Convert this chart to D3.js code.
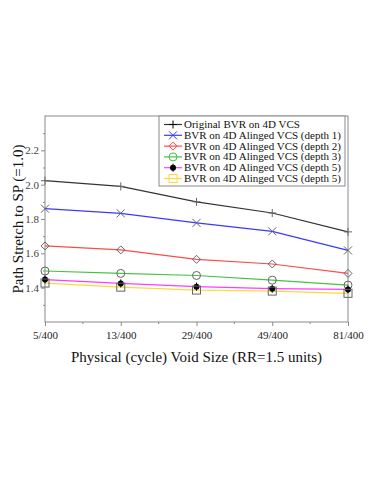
<!DOCTYPE html>
<html>
<head>
<meta charset="utf-8">
<script src="https://cdn.jsdelivr.net/npm/d3@7"></script>
<style>
  body { margin: 0; background: #fff; }
  text { font-family: "Liberation Serif", "DejaVu Serif", serif; }
</style>
</head>
<body>
<script>
const categories = ["5/400", "13/400", "29/400", "49/400", "81/400"];
const seriesNames = [
  "Original BVR on 4D VCS",
  "BVR on 4D Alinged VCS (depth 1)",
  "BVR on 4D Alinged VCS (depth 2)",
  "BVR on 4D Alinged VCS (depth 3)",
  "BVR on 4D Alinged VCS (depth 5)",
  "BVR on 4D Alinged VCS (depth 5)"
];
const original = [2.023, 1.99, 1.90, 1.835, 1.725];
const depth1 = [1.86, 1.833, 1.777, 1.728, 1.617];
const depth2 = [1.643, 1.62, 1.565, 1.538, 1.483];
const depth3 = [1.497, 1.483, 1.471, 1.444, 1.415];
const depth5a = [1.447, 1.425, 1.406, 1.394, 1.39];
const depth5b = [1.427, 1.403, 1.386, 1.38, 1.367];
const yTicks = [1.4, 1.6, 1.8, 2.0, 2.2];

const lineColors = ["#333333", "#3a3aff", "#ff4a4a", "#44c244", "#ff3cff", "#ffd83a"];
const symbols = ["plus", "cross", "diamond", "circle", "dot", "square"];
const seriesValues = [original, depth1, depth2, depth3, depth5a, depth5b];

const W = 374, H = 484;
const m = {left: 45, right: 26, top: 116, bottom: 162};
const svg = d3.select("body").append("svg").attr("width", W).attr("height", H);

const x = d3.scalePoint().domain(categories).range([m.left, W - m.right]);
const y = d3.scaleLinear().domain([1.2, 2.4]).range([H - m.bottom, m.top]);

const frame = "#8a8a8a";

// frame
svg.append("rect")
  .attr("x", m.left).attr("y", m.top)
  .attr("width", W - m.right - m.left).attr("height", H - m.bottom - m.top)
  .attr("fill", "none").attr("stroke", frame).attr("stroke-width", 1);

// y axis
const yAxis = svg.append("g").attr("transform", `translate(${m.left},0)`)
  .call(d3.axisLeft(y).tickValues(yTicks).tickFormat(d3.format(".1f")).tickSize(4).tickPadding(2));
yAxis.select(".domain").remove();
yAxis.selectAll("line").attr("stroke", frame);
yAxis.selectAll("text").attr("fill", "#444").style("font-size", "11px");
svg.append("g").attr("transform", `translate(${m.left},0)`)
  .call(d3.axisLeft(y).tickValues(d3.range(1.3, 2.4, 0.2)).tickFormat("").tickSize(2))
  .call(g => g.select(".domain").remove())
  .selectAll("line").attr("stroke", frame);

// x axis
const xAxis = svg.append("g").attr("transform", `translate(0,${H - m.bottom})`)
  .call(d3.axisBottom(x).tickSize(4).tickPadding(5));
xAxis.select(".domain").remove();
xAxis.selectAll("line").attr("stroke", frame);
xAxis.selectAll("text").attr("fill", "#222").style("font-size", "11px");
const step = x.step();
svg.append("g").selectAll("line")
  .data(categories.slice(1))
  .join("line")
  .attr("x1", d => x(d) - step / 2).attr("x2", d => x(d) - step / 2)
  .attr("y1", H - m.bottom).attr("y2", H - m.bottom + 2)
  .attr("stroke", frame);

// axis titles
svg.append("text")
  .attr("x", (m.left + W - m.right) / 2).attr("y", 362)
  .attr("text-anchor", "middle").style("font-size", "15px").attr("fill", "#111")
  .text("Physical (cycle) Void Size (RR=1.5 units)");
svg.append("text")
  .attr("transform", `translate(23,${(m.top + H - m.bottom) / 2}) rotate(-90)`)
  .attr("text-anchor", "middle").style("font-size", "15px").attr("fill", "#111")
  .text("Path Stretch to SP (=1.0)");

function drawSymbol(g, type, cx, cy, color) {
  const s = 4;
  if (type === "plus") {
    g.append("path").attr("d", `M${cx - s},${cy}H${cx + s}M${cx},${cy - s}V${cy + s}`)
      .attr("stroke", color).attr("fill", "none");
  } else if (type === "cross") {
    g.append("path").attr("d", `M${cx - s},${cy - s}L${cx + s},${cy + s}M${cx - s},${cy + s}L${cx + s},${cy - s}`)
      .attr("stroke", color).attr("fill", "none");
  } else if (type === "diamond") {
    g.append("path").attr("d", `M${cx},${cy - s}L${cx + s},${cy}L${cx},${cy + s}L${cx - s},${cy}Z`)
      .attr("stroke", color).attr("fill", "none");
  } else if (type === "circle") {
    g.append("circle").attr("cx", cx).attr("cy", cy).attr("r", s)
      .attr("stroke", color).attr("fill", "none");
  } else if (type === "dot") {
    g.append("path").attr("d", `M${cx},${cy - s}V${cy + s}`).attr("stroke", "#000");
    g.append("circle").attr("cx", cx).attr("cy", cy).attr("r", 3).attr("fill", "#000");
  } else if (type === "square") {
    g.append("rect").attr("x", cx - s).attr("y", cy - s).attr("width", 2 * s).attr("height", 2 * s)
      .attr("stroke", color).attr("fill", "none");
  }
}

const line = d3.line().x((d, i) => x(categories[i])).y(d => y(d));
const plot = svg.append("g");
seriesValues.forEach((vals, k) => {
  plot.append("path").datum(vals)
    .attr("d", line).attr("fill", "none")
    .attr("stroke", lineColors[k]).attr("stroke-width", 1.2);
});
seriesValues.forEach((vals, k) => {
  vals.forEach((v, i) => drawSymbol(plot, symbols[k], x(categories[i]), y(v), "#666"));
});

// legend
const lg = svg.append("g");
const lx = 159, ly = 116, rowH = 10.8;
lg.append("rect").attr("x", lx).attr("y", ly).attr("width", 186).attr("height", 70)
  .attr("fill", "#fff").attr("stroke", frame);
seriesNames.forEach((name, k) => {
  const cy = ly + 8.5 + k * rowH;
  lg.append("line").attr("x1", lx + 5).attr("x2", lx + 23).attr("y1", cy).attr("y2", cy)
    .attr("stroke", lineColors[k]).attr("stroke-width", 1.2);
  drawSymbol(lg, symbols[k], lx + 14, cy, k === 0 ? "#000" : lineColors[k]);
  lg.append("text").attr("x", lx + 25).attr("y", cy + 3.5)
    .style("font-size", "11px").attr("fill", "#111").text(name);
});
</script>
</body>
</html>
